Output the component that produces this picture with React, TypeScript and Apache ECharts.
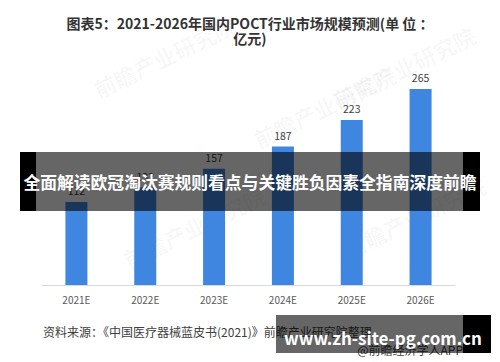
import React, { useEffect, useRef } from "react";
import * as echarts from "echarts";

const categories = ["2021E", "2022E", "2023E", "2024E", "2025E", "2026E"];
const marketSize = [112, 132, 157, 187, 223, 265];
const titleText = "图表5：2021-2026年国内POCT行业市场规模预测(单 位 ：\n亿元)";
const sourceText = "资料来源：《中国医疗器械蓝皮书(2021)》前瞻产业研究院整理";
const appText = "@前瞻经济学人APP";
const bannerText = "全面解读欧冠淘汰赛规则看点与关键胜负因素全指南深度前瞻";
const siteText = "www.zh-site-pg.com.cn";

const FONT = "'Noto Sans CJK SC', 'Noto Sans', sans-serif";

export default function App() {
  const ref = useRef<HTMLDivElement>(null);
  useEffect(() => {
    if (!ref.current) return;
    const chart = echarts.init(ref.current, null, { renderer: "svg" });
    const wm = (x: number, y: number) => ({
      type: "text",
      x,
      y,
      rotation: Math.PI / 7,
      z: 1,
      silent: true,
      style: {
        text: "前瞻产业研究院",
        fill: "rgba(0,0,0,0.035)",
        font: `bold 22px ${FONT}`,
      },
    });
    chart.setOption({
      animation: false,
      backgroundColor: "#ffffff",
      title: {
        text: titleText,
        left: "center",
        top: 10,
        textStyle: {
          fontFamily: FONT,
          fontSize: 14,
          fontWeight: "bold",
          color: "#333333",
          lineHeight: 15,
        },
      },
      grid: { left: 42, right: 45, top: 63, bottom: 77 },
      xAxis: {
        type: "category",
        data: categories,
        axisLine: { lineStyle: { color: "#d9d9d9" } },
        axisTick: { show: false },
        axisLabel: { color: "#595959", fontSize: 10, fontFamily: FONT, margin: 9 },
      },
      yAxis: {
        type: "value",
        min: 0,
        max: 300,
        show: false,
        splitLine: { show: false },
      },
      series: [
        {
          type: "bar",
          data: marketSize,
          barWidth: 22,
          itemStyle: { color: "#3f86e0" },
          label: {
            show: true,
            position: "top",
            distance: 6,
            color: "#404040",
            fontSize: 10.5,
            fontFamily: FONT,
          },
        },
      ],
      graphic: [
        wm(90, 80),
        wm(250, 130),
        wm(330, 90),
        wm(120, 250),
        wm(340, 240),
        {
          type: "text",
          left: 43,
          top: 325,
          z: 5,
          style: { text: sourceText, fill: "#404040", font: `12px ${FONT}` },
        },
        {
          type: "text",
          right: 37,
          top: 343,
          z: 5,
          style: { text: appText, fill: "#404040", font: `12px ${FONT}` },
        },
        // banner 1
        { type: "rect", z: 100, shape: { x: 20, y: 152, width: 16, height: 59 }, style: { fill: "#000" } },
        { type: "rect", z: 100, shape: { x: 463, y: 152, width: 17, height: 59 }, style: { fill: "#000" } },
        { type: "rect", z: 100, shape: { x: 36, y: 152, width: 427, height: 59 }, style: { fill: "rgba(0,0,0,0.6)" } },
        {
          type: "text",
          z: 101,
          x: 250,
          y: 182,
          style: {
            text: bannerText,
            fill: "#ffffff",
            font: `bold 16.8px ${FONT}`,
            align: "center",
            verticalAlign: "middle",
          },
        },
        // banner 2
        { type: "rect", z: 100, shape: { x: 463, y: 315, width: 28, height: 38 }, style: { fill: "#000" } },
        { type: "rect", z: 100, shape: { x: 276, y: 315, width: 187, height: 38 }, style: { fill: "rgba(0,0,0,0.6)" } },
        {
          type: "text",
          z: 101,
          x: 383,
          y: 337,
          style: {
            text: siteText,
            fill: "#ffffff",
            font: `bold 17px ${FONT}`,
            align: "center",
            verticalAlign: "middle",
          },
        },
      ],
    });
    return () => chart.dispose();
  }, []);
  return (
    <div
      ref={ref}
      style={{ position: "fixed", left: 0, top: 0, width: 500, height: 362 }}
    />
  );
}
